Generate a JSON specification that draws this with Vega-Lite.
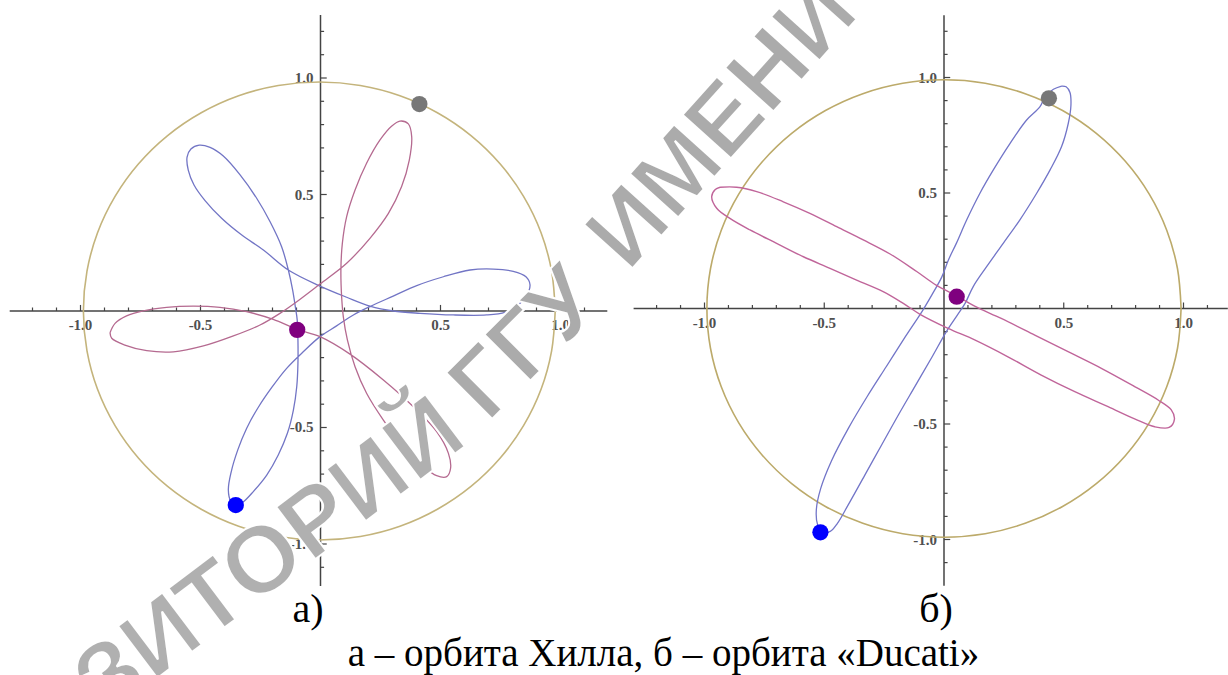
{
"$schema": "https://vega.github.io/schema/vega-lite/v6.json",
"width": 1228, "height": 675, "padding": 0, "autosize": "none", "background": "white",
"config": {"view": {"stroke": null}, "text": {"font": "Liberation Serif"}},
"datasets": {
"major": [{"v": -1, "label": "-1.0"}, {"v": -0.5, "label": "-0.5"}, {"v": 0.5, "label": "0.5"}, {"v": 1, "label": "1.0"}],
"xMinor": [{"v": -1.2}, {"v": -1.1}, {"v": -0.9}, {"v": -0.8}, {"v": -0.7}, {"v": -0.6}, {"v": -0.4}, {"v": -0.3}, {"v": -0.2}, {"v": -0.1}, {"v": 0.1}, {"v": 0.2}, {"v": 0.3}, {"v": 0.4}, {"v": 0.6}, {"v": 0.7}, {"v": 0.8}, {"v": 0.9}, {"v": 1.1}],
"yMinor": [{"v": -1.1}, {"v": -0.9}, {"v": -0.8}, {"v": -0.7}, {"v": -0.6}, {"v": -0.4}, {"v": -0.3}, {"v": -0.2}, {"v": -0.1}, {"v": 0.1}, {"v": 0.2}, {"v": 0.3}, {"v": 0.4}, {"v": 0.6}, {"v": 0.7}, {"v": 0.8}, {"v": 0.9}, {"v": 1.1}, {"v": 1.2}],
"watermark": [{"t": "РЕПОЗИТОРИЙ", "x": 0.6221, "y": -0.5652, "part": "a"}, {"t": "ГГУ", "x": 0.6971, "y": -0.4824, "part": "b"}, {"t": "ИМЕНИ Ф. СКОРИНЫ", "x": 1.2821, "y": 0.1635, "part": "c"}],
"hillCircle": [
{"i":0,"x":0.978,"y":0},{"i":1,"x":0.963,"y":0.171},{"i":2,"x":0.919,"y":0.336},{"i":3,"x":0.846,"y":0.492},{"i":4,"x":0.748,"y":0.632},{"i":5,"x":0.627,"y":0.753},{"i":6,"x":0.487,"y":0.851},{"i":7,"x":0.331,"y":0.924},{"i":8,"x":0.166,"y":0.968},{"i":9,"x":-0.005,"y":0.983},
{"i":10,"x":-0.176,"y":0.968},{"i":11,"x":-0.341,"y":0.924},{"i":12,"x":-0.497,"y":0.851},{"i":13,"x":-0.637,"y":0.753},{"i":14,"x":-0.758,"y":0.632},{"i":15,"x":-0.856,"y":0.492},{"i":16,"x":-0.929,"y":0.336},{"i":17,"x":-0.973,"y":0.171},{"i":18,"x":-0.988,"y":0},
{"i":19,"x":-0.973,"y":-0.171},{"i":20,"x":-0.929,"y":-0.336},{"i":21,"x":-0.856,"y":-0.492},{"i":22,"x":-0.758,"y":-0.632},{"i":23,"x":-0.637,"y":-0.753},{"i":24,"x":-0.497,"y":-0.851},{"i":25,"x":-0.341,"y":-0.924},{"i":26,"x":-0.176,"y":-0.968},{"i":27,"x":-0.005,"y":-0.983},
{"i":28,"x":0.166,"y":-0.968},{"i":29,"x":0.331,"y":-0.924},{"i":30,"x":0.487,"y":-0.851},{"i":31,"x":0.627,"y":-0.753},{"i":32,"x":0.748,"y":-0.632},{"i":33,"x":0.846,"y":-0.492},{"i":34,"x":0.919,"y":-0.336},{"i":35,"x":0.963,"y":-0.171},{"i":36,"x":0.978,"y":0}],
"hillBlue": [
{"i":0,"x":-0.349,"y":-0.833},{"i":1,"x":-0.324,"y":-0.821},{"i":2,"x":-0.28,"y":-0.775},{"i":3,"x":-0.224,"y":-0.704},{"i":4,"x":-0.176,"y":-0.618},{"i":5,"x":-0.138,"y":-0.525},{"i":6,"x":-0.113,"y":-0.425},{"i":7,"x":-0.099,"y":-0.325},{"i":8,"x":-0.094,"y":-0.225},{"i":9,"x":-0.094,"y":-0.124},
{"i":10,"x":-0.097,"y":-0.039},{"i":11,"x":-0.105,"y":0.019},{"i":12,"x":-0.116,"y":0.09},{"i":13,"x":-0.134,"y":0.176},{"i":14,"x":-0.162,"y":0.276},{"i":15,"x":-0.21,"y":0.383},{"i":16,"x":-0.266,"y":0.484},{"i":17,"x":-0.335,"y":0.584},{"i":18,"x":-0.405,"y":0.665},{"i":19,"x":-0.46,"y":0.702},
{"i":20,"x":-0.505,"y":0.712},{"i":21,"x":-0.54,"y":0.695},{"i":22,"x":-0.556,"y":0.66},{"i":23,"x":-0.551,"y":0.605},{"i":24,"x":-0.527,"y":0.541},{"i":25,"x":-0.481,"y":0.474},{"i":26,"x":-0.412,"y":0.398},{"i":27,"x":-0.328,"y":0.326},{"i":28,"x":-0.238,"y":0.262},{"i":29,"x":-0.134,"y":0.176},
{"i":30,"x":-0.002,"y":0.107},{"i":31,"x":0.109,"y":0.059},{"i":32,"x":0.206,"y":0.021},{"i":33,"x":0.303,"y":0.0},{"i":34,"x":0.415,"y":-0.01},{"i":35,"x":0.553,"y":-0.017},{"i":36,"x":0.692,"y":-0.017},{"i":37,"x":0.769,"y":-0.006},{"i":38,"x":0.817,"y":0.021},{"i":39,"x":0.856,"y":0.062},
{"i":40,"x":0.873,"y":0.112},{"i":41,"x":0.856,"y":0.147},{"i":42,"x":0.803,"y":0.17},{"i":43,"x":0.72,"y":0.18},{"i":44,"x":0.623,"y":0.176},{"i":45,"x":0.512,"y":0.147},{"i":46,"x":0.401,"y":0.109},{"i":47,"x":0.303,"y":0.064},{"i":48,"x":0.206,"y":0.019},{"i":49,"x":0.137,"y":-0.017},
{"i":50,"x":0.067,"y":-0.064},{"i":51,"x":-0.002,"y":-0.11},{"i":52,"x":-0.072,"y":-0.175},{"i":53,"x":-0.141,"y":-0.246},{"i":54,"x":-0.203,"y":-0.328},{"i":55,"x":-0.259,"y":-0.413},{"i":56,"x":-0.308,"y":-0.504},{"i":57,"x":-0.345,"y":-0.597},{"i":58,"x":-0.372,"y":-0.69},{"i":59,"x":-0.384,"y":-0.768},
{"i":60,"x":-0.374,"y":-0.815},{"i":61,"x":-0.349,"y":-0.833}],
"hillPink": [
{"i":0,"x":-0.877,"y":-0.093},{"i":1,"x":-0.856,"y":-0.053},{"i":2,"x":-0.808,"y":-0.021},{"i":3,"x":-0.738,"y":0.001},{"i":4,"x":-0.641,"y":0.016},{"i":5,"x":-0.53,"y":0.021},{"i":6,"x":-0.419,"y":0.016},{"i":7,"x":-0.308,"y":-0.003},{"i":8,"x":-0.197,"y":-0.036},{"i":9,"x":-0.097,"y":-0.079},
{"i":10,"x":-0.002,"y":-0.11},{"i":11,"x":0.123,"y":-0.185},{"i":12,"x":0.262,"y":-0.296},{"i":13,"x":0.387,"y":-0.411},{"i":14,"x":0.484,"y":-0.518},{"i":15,"x":0.533,"y":-0.611},{"i":16,"x":0.542,"y":-0.675},{"i":17,"x":0.526,"y":-0.711},{"i":18,"x":0.484,"y":-0.707},{"i":19,"x":0.422,"y":-0.661},
{"i":20,"x":0.345,"y":-0.582},{"i":21,"x":0.262,"y":-0.468},{"i":22,"x":0.192,"y":-0.353},{"i":23,"x":0.144,"y":-0.239},{"i":24,"x":0.112,"y":-0.124},{"i":25,"x":0.095,"y":-0.024},{"i":26,"x":0.088,"y":0.062},{"i":27,"x":0.085,"y":0.176},{"i":28,"x":0.091,"y":0.29},{"i":29,"x":0.109,"y":0.405},
{"i":30,"x":0.144,"y":0.519},{"i":31,"x":0.192,"y":0.634},{"i":32,"x":0.248,"y":0.734},{"i":33,"x":0.297,"y":0.794},{"i":34,"x":0.331,"y":0.815},{"i":35,"x":0.366,"y":0.803},{"i":36,"x":0.38,"y":0.748},{"i":37,"x":0.37,"y":0.648},{"i":38,"x":0.338,"y":0.534},{"i":39,"x":0.283,"y":0.419},
{"i":40,"x":0.206,"y":0.312},{"i":41,"x":0.109,"y":0.205},{"i":42,"x":-0.002,"y":0.116},{"i":43,"x":-0.099,"y":0.04},{"i":44,"x":-0.169,"y":-0.01},{"i":45,"x":-0.252,"y":-0.06},{"i":46,"x":-0.363,"y":-0.107},{"i":47,"x":-0.488,"y":-0.15},{"i":48,"x":-0.613,"y":-0.175},{"i":49,"x":-0.724,"y":-0.17},
{"i":50,"x":-0.815,"y":-0.146},{"i":51,"x":-0.87,"y":-0.117},{"i":52,"x":-0.877,"y":-0.093}],
"hillBodies": [{"body":"outer","x":0.412,"y":0.888},{"body":"center","x":-0.097,"y":-0.081},{"body":"third","x":-0.353,"y":-0.833}],
"ducatiCircle": [
{"i":0,"x":0.99,"y":0},{"i":1,"x":0.975,"y":0.172},{"i":2,"x":0.93,"y":0.339},{"i":3,"x":0.857,"y":0.495},{"i":4,"x":0.758,"y":0.636},{"i":5,"x":0.636,"y":0.758},{"i":6,"x":0.495,"y":0.857},{"i":7,"x":0.339,"y":0.93},{"i":8,"x":0.172,"y":0.975},{"i":9,"x":0,"y":0.99},
{"i":10,"x":-0.172,"y":0.975},{"i":11,"x":-0.339,"y":0.93},{"i":12,"x":-0.495,"y":0.857},{"i":13,"x":-0.636,"y":0.758},{"i":14,"x":-0.758,"y":0.636},{"i":15,"x":-0.857,"y":0.495},{"i":16,"x":-0.93,"y":0.339},{"i":17,"x":-0.975,"y":0.172},{"i":18,"x":-0.99,"y":0},
{"i":19,"x":-0.975,"y":-0.172},{"i":20,"x":-0.93,"y":-0.339},{"i":21,"x":-0.857,"y":-0.495},{"i":22,"x":-0.758,"y":-0.636},{"i":23,"x":-0.636,"y":-0.758},{"i":24,"x":-0.495,"y":-0.857},{"i":25,"x":-0.339,"y":-0.93},{"i":26,"x":-0.172,"y":-0.975},{"i":27,"x":0,"y":-0.99},
{"i":28,"x":0.172,"y":-0.975},{"i":29,"x":0.339,"y":-0.93},{"i":30,"x":0.495,"y":-0.857},{"i":31,"x":0.636,"y":-0.758},{"i":32,"x":0.758,"y":-0.636},{"i":33,"x":0.857,"y":-0.495},{"i":34,"x":0.93,"y":-0.339},{"i":35,"x":0.975,"y":-0.172},{"i":36,"x":0.99,"y":0}],
"ducatiBlue": [
{"i":0,"x":0.491,"y":0.963},{"i":1,"x":0.457,"y":0.949},{"i":2,"x":0.422,"y":0.917},{"i":3,"x":0.401,"y":0.874},{"i":4,"x":0.345,"y":0.816},{"i":5,"x":0.276,"y":0.715},{"i":6,"x":0.206,"y":0.6},{"i":7,"x":0.15,"y":0.499},{"i":8,"x":0.095,"y":0.384},{"i":9,"x":0.052,"y":0.283},
{"i":10,"x":0.018,"y":0.209},{"i":11,"x":-0.009,"y":0.137},{"i":12,"x":-0.05,"y":0.06},{"i":13,"x":-0.09,"y":-0.01},{"i":14,"x":-0.16,"y":-0.12},{"i":15,"x":-0.24,"y":-0.25},{"i":16,"x":-0.32,"y":-0.38},{"i":17,"x":-0.4,"y":-0.52},{"i":18,"x":-0.47,"y":-0.66},{"i":19,"x":-0.515,"y":-0.78},
{"i":20,"x":-0.533,"y":-0.87},{"i":21,"x":-0.528,"y":-0.935},{"i":22,"x":-0.505,"y":-0.968},{"i":23,"x":-0.475,"y":-0.965},{"i":24,"x":-0.445,"y":-0.93},{"i":25,"x":-0.4,"y":-0.85},{"i":26,"x":-0.33,"y":-0.72},{"i":27,"x":-0.26,"y":-0.59},{"i":28,"x":-0.19,"y":-0.46},{"i":29,"x":-0.12,"y":-0.335},
{"i":30,"x":-0.05,"y":-0.21},{"i":31,"x":0.01,"y":-0.1},{"i":32,"x":0.055,"y":-0.03},{"i":33,"x":0.088,"y":0.022},{"i":34,"x":0.122,"y":0.095},{"i":35,"x":0.178,"y":0.181},{"i":36,"x":0.248,"y":0.283},{"i":37,"x":0.317,"y":0.384},{"i":38,"x":0.387,"y":0.499},{"i":39,"x":0.443,"y":0.6},
{"i":40,"x":0.491,"y":0.701},{"i":41,"x":0.519,"y":0.802},{"i":42,"x":0.53,"y":0.88},{"i":43,"x":0.526,"y":0.935},{"i":44,"x":0.51,"y":0.96},{"i":45,"x":0.491,"y":0.963}],
"ducatiPink": [
{"i":0,"x":-0.935,"y":0.525},{"i":1,"x":-0.866,"y":0.525},{"i":2,"x":-0.782,"y":0.506},{"i":3,"x":-0.671,"y":0.462},{"i":4,"x":-0.56,"y":0.412},{"i":5,"x":-0.448,"y":0.354},{"i":6,"x":-0.337,"y":0.297},{"i":7,"x":-0.225,"y":0.236},{"i":8,"x":-0.114,"y":0.16},{"i":9,"x":-0.031,"y":0.1},
{"i":10,"x":0.053,"y":0.055},{"i":11,"x":0.128,"y":0.01},{"i":12,"x":0.239,"y":-0.043},{"i":13,"x":0.379,"y":-0.115},{"i":14,"x":0.518,"y":-0.187},{"i":15,"x":0.657,"y":-0.259},{"i":16,"x":0.796,"y":-0.338},{"i":17,"x":0.894,"y":-0.396},{"i":18,"x":0.949,"y":-0.439},{"i":19,"x":0.962,"y":-0.48},
{"i":20,"x":0.94,"y":-0.515},{"i":21,"x":0.88,"y":-0.512},{"i":22,"x":0.796,"y":-0.478},{"i":23,"x":0.685,"y":-0.425},{"i":24,"x":0.546,"y":-0.36},{"i":25,"x":0.406,"y":-0.288},{"i":26,"x":0.267,"y":-0.209},{"i":27,"x":0.128,"y":-0.136},{"i":28,"x":0.017,"y":-0.086},{"i":29,"x":-0.1,"y":-0.025},
{"i":30,"x":-0.17,"y":0.022},{"i":31,"x":-0.254,"y":0.073},{"i":32,"x":-0.365,"y":0.123},{"i":33,"x":-0.476,"y":0.174},{"i":34,"x":-0.587,"y":0.224},{"i":35,"x":-0.699,"y":0.282},{"i":36,"x":-0.81,"y":0.34},{"i":37,"x":-0.894,"y":0.39},{"i":38,"x":-0.949,"y":0.434},{"i":39,"x":-0.97,"y":0.484},
{"i":40,"x":-0.955,"y":0.515},{"i":41,"x":-0.935,"y":0.525}],
"ducatiBodies": [{"body":"outer","x":0.438,"y":0.91},{"body":"center","x":0.053,"y":0.051},{"body":"third","x":-0.516,"y":-0.969}]
},
"layer": [
{"layer": [
 {"data": {"values": [{}]}, "mark": {"type": "rule", "stroke": "#444444", "strokeWidth": 1.5},
  "encoding": {"x": {"datum": -1.295, "type": "quantitative", "scale": {"domain": [-1.335417, 3.78125], "nice": false, "zero": false}, "axis": null}, "x2": {"datum": 1.195},
   "y": {"datum": 0, "type": "quantitative", "scale": {"domain": [-1.562232, 1.334764], "nice": false, "zero": false}, "axis": null}}},
 {"data": {"values": [{}]}, "mark": {"type": "rule", "stroke": "#444444", "strokeWidth": 1.5},
  "encoding": {"x": {"datum": 0, "type": "quantitative", "scale": {"domain": [-1.335417, 3.78125], "nice": false, "zero": false}, "axis": null},
   "y": {"datum": -1.18, "type": "quantitative", "scale": {"domain": [-1.562232, 1.334764], "nice": false, "zero": false}, "axis": null}, "y2": {"datum": 1.27}}},
 {"data": {"name": "xMinor"}, "mark": {"type": "rule", "stroke": "#444444", "strokeWidth": 1.2},
  "encoding": {"x": {"field": "v", "type": "quantitative", "scale": {"domain": [-1.335417, 3.78125], "nice": false, "zero": false}, "axis": null},
   "y": {"datum": 0, "type": "quantitative", "scale": {"domain": [-1.562232, 1.334764], "nice": false, "zero": false}, "axis": null}, "y2": {"datum": 0.015}}},
 {"data": {"name": "major"}, "mark": {"type": "rule", "stroke": "#444444", "strokeWidth": 1.2},
  "encoding": {"x": {"field": "v", "type": "quantitative", "scale": {"domain": [-1.335417, 3.78125], "nice": false, "zero": false}, "axis": null},
   "y": {"datum": 0, "type": "quantitative", "scale": {"domain": [-1.562232, 1.334764], "nice": false, "zero": false}, "axis": null}, "y2": {"datum": 0.026}}},
 {"data": {"name": "yMinor"}, "mark": {"type": "rule", "stroke": "#444444", "strokeWidth": 1.2},
  "encoding": {"y": {"field": "v", "type": "quantitative", "scale": {"domain": [-1.562232, 1.334764], "nice": false, "zero": false}, "axis": null},
   "x": {"datum": 0, "type": "quantitative", "scale": {"domain": [-1.335417, 3.78125], "nice": false, "zero": false}, "axis": null}, "x2": {"datum": 0.015}}},
 {"data": {"name": "major"}, "mark": {"type": "rule", "stroke": "#444444", "strokeWidth": 1.2},
  "encoding": {"y": {"field": "v", "type": "quantitative", "scale": {"domain": [-1.562232, 1.334764], "nice": false, "zero": false}, "axis": null},
   "x": {"datum": 0, "type": "quantitative", "scale": {"domain": [-1.335417, 3.78125], "nice": false, "zero": false}, "axis": null}, "x2": {"datum": 0.026}}},
 {"data": {"name": "major"}, "mark": {"type": "text", "fontSize": 15, "fontWeight": "bold", "color": "#505050", "baseline": "middle", "align": "center", "dy": 14},
  "encoding": {"x": {"field": "v", "type": "quantitative", "scale": {"domain": [-1.335417, 3.78125], "nice": false, "zero": false}, "axis": null},
   "y": {"datum": 0, "type": "quantitative", "scale": {"domain": [-1.562232, 1.334764], "nice": false, "zero": false}, "axis": null}, "text": {"field": "label"}}},
 {"data": {"name": "major"}, "mark": {"type": "text", "fontSize": 15, "fontWeight": "bold", "color": "#505050", "baseline": "middle", "align": "right", "dx": -7},
  "encoding": {"y": {"field": "v", "type": "quantitative", "scale": {"domain": [-1.562232, 1.334764], "nice": false, "zero": false}, "axis": null},
   "x": {"datum": 0, "type": "quantitative", "scale": {"domain": [-1.335417, 3.78125], "nice": false, "zero": false}, "axis": null}, "text": {"field": "label"}}},
 {"data": {"name": "hillCircle"}, "mark": {"type": "line", "stroke": "#c4b47c", "strokeWidth": 1.6, "interpolate": "catmull-rom"},
  "encoding": {"x": {"field": "x", "type": "quantitative", "scale": {"domain": [-1.335417, 3.78125], "nice": false, "zero": false}, "axis": null},
   "y": {"field": "y", "type": "quantitative", "scale": {"domain": [-1.562232, 1.334764], "nice": false, "zero": false}, "axis": null}, "order": {"field": "i", "type": "quantitative"}}},
 {"data": {"name": "hillBlue"}, "mark": {"type": "line", "stroke": "#7275c5", "strokeWidth": 1.3, "interpolate": "catmull-rom"},
  "encoding": {"x": {"field": "x", "type": "quantitative", "scale": {"domain": [-1.335417, 3.78125], "nice": false, "zero": false}, "axis": null},
   "y": {"field": "y", "type": "quantitative", "scale": {"domain": [-1.562232, 1.334764], "nice": false, "zero": false}, "axis": null}, "order": {"field": "i", "type": "quantitative"}}},
 {"data": {"name": "hillPink"}, "mark": {"type": "line", "stroke": "#b56a90", "strokeWidth": 1.3, "interpolate": "catmull-rom"},
  "encoding": {"x": {"field": "x", "type": "quantitative", "scale": {"domain": [-1.335417, 3.78125], "nice": false, "zero": false}, "axis": null},
   "y": {"field": "y", "type": "quantitative", "scale": {"domain": [-1.562232, 1.334764], "nice": false, "zero": false}, "axis": null}, "order": {"field": "i", "type": "quantitative"}}},
 {"data": {"name": "hillBodies"}, "mark": {"type": "point", "filled": true, "opacity": 1, "size": 265},
  "encoding": {"x": {"field": "x", "type": "quantitative", "scale": {"domain": [-1.335417, 3.78125], "nice": false, "zero": false}, "axis": null},
   "y": {"field": "y", "type": "quantitative", "scale": {"domain": [-1.562232, 1.334764], "nice": false, "zero": false}, "axis": null},
   "color": {"field": "body", "type": "nominal", "scale": {"domain": ["outer", "center", "third"], "range": ["#777777", "#7f007f", "#0000ff"]}, "legend": null}}},
 {"data": {"values": [{"t": "а)"}]}, "mark": {"type": "text", "fontSize": 40, "color": "#000000", "baseline": "alphabetic", "align": "center"},
  "encoding": {"x": {"datum": -0.052, "type": "quantitative", "scale": {"domain": [-1.335417, 3.78125], "nice": false, "zero": false}, "axis": null},
   "y": {"datum": -1.3348, "type": "quantitative", "scale": {"domain": [-1.562232, 1.334764], "nice": false, "zero": false}, "axis": null}, "text": {"field": "t"}}},
 {"data": {"values": [{"t": "а – орбита Хилла, б – орбита «Ducati»"}]}, "mark": {"type": "text", "fontSize": 39, "color": "#000000", "baseline": "alphabetic", "align": "center"},
  "encoding": {"x": {"datum": 1.429, "type": "quantitative", "scale": {"domain": [-1.335417, 3.78125], "nice": false, "zero": false}, "axis": null},
   "y": {"datum": -1.5236, "type": "quantitative", "scale": {"domain": [-1.562232, 1.334764], "nice": false, "zero": false}, "axis": null}, "text": {"field": "t"}}}
]},
{"layer": [
 {"data": {"values": [{}]}, "mark": {"type": "rule", "stroke": "#444444", "strokeWidth": 1.5},
  "encoding": {"x": {"datum": -1.296, "type": "quantitative", "scale": {"domain": [-3.941545, 1.185804], "nice": false, "zero": false}, "axis": null}, "x2": {"datum": 1.185},
   "y": {"datum": 0, "type": "quantitative", "scale": {"domain": [-1.58658, 1.335498], "nice": false, "zero": false}, "axis": null}}},
 {"data": {"values": [{}]}, "mark": {"type": "rule", "stroke": "#444444", "strokeWidth": 1.5},
  "encoding": {"x": {"datum": 0, "type": "quantitative", "scale": {"domain": [-3.941545, 1.185804], "nice": false, "zero": false}, "axis": null},
   "y": {"datum": -1.2, "type": "quantitative", "scale": {"domain": [-1.58658, 1.335498], "nice": false, "zero": false}, "axis": null}, "y2": {"datum": 1.27}}},
 {"data": {"name": "xMinor"}, "mark": {"type": "rule", "stroke": "#444444", "strokeWidth": 1.2},
  "encoding": {"x": {"field": "v", "type": "quantitative", "scale": {"domain": [-3.941545, 1.185804], "nice": false, "zero": false}, "axis": null},
   "y": {"datum": 0, "type": "quantitative", "scale": {"domain": [-1.58658, 1.335498], "nice": false, "zero": false}, "axis": null}, "y2": {"datum": 0.015}}},
 {"data": {"name": "major"}, "mark": {"type": "rule", "stroke": "#444444", "strokeWidth": 1.2},
  "encoding": {"x": {"field": "v", "type": "quantitative", "scale": {"domain": [-3.941545, 1.185804], "nice": false, "zero": false}, "axis": null},
   "y": {"datum": 0, "type": "quantitative", "scale": {"domain": [-1.58658, 1.335498], "nice": false, "zero": false}, "axis": null}, "y2": {"datum": 0.026}}},
 {"data": {"name": "yMinor"}, "mark": {"type": "rule", "stroke": "#444444", "strokeWidth": 1.2},
  "encoding": {"y": {"field": "v", "type": "quantitative", "scale": {"domain": [-1.58658, 1.335498], "nice": false, "zero": false}, "axis": null},
   "x": {"datum": 0, "type": "quantitative", "scale": {"domain": [-3.941545, 1.185804], "nice": false, "zero": false}, "axis": null}, "x2": {"datum": 0.015}}},
 {"data": {"name": "major"}, "mark": {"type": "rule", "stroke": "#444444", "strokeWidth": 1.2},
  "encoding": {"y": {"field": "v", "type": "quantitative", "scale": {"domain": [-1.58658, 1.335498], "nice": false, "zero": false}, "axis": null},
   "x": {"datum": 0, "type": "quantitative", "scale": {"domain": [-3.941545, 1.185804], "nice": false, "zero": false}, "axis": null}, "x2": {"datum": 0.026}}},
 {"data": {"name": "major"}, "mark": {"type": "text", "fontSize": 15, "fontWeight": "bold", "color": "#505050", "baseline": "middle", "align": "center", "dy": 14},
  "encoding": {"x": {"field": "v", "type": "quantitative", "scale": {"domain": [-3.941545, 1.185804], "nice": false, "zero": false}, "axis": null},
   "y": {"datum": 0, "type": "quantitative", "scale": {"domain": [-1.58658, 1.335498], "nice": false, "zero": false}, "axis": null}, "text": {"field": "label"}}},
 {"data": {"name": "major"}, "mark": {"type": "text", "fontSize": 15, "fontWeight": "bold", "color": "#505050", "baseline": "middle", "align": "right", "dx": -7},
  "encoding": {"y": {"field": "v", "type": "quantitative", "scale": {"domain": [-1.58658, 1.335498], "nice": false, "zero": false}, "axis": null},
   "x": {"datum": 0, "type": "quantitative", "scale": {"domain": [-3.941545, 1.185804], "nice": false, "zero": false}, "axis": null}, "text": {"field": "label"}}},
 {"data": {"name": "ducatiCircle"}, "mark": {"type": "line", "stroke": "#bcaa6a", "strokeWidth": 1.6, "interpolate": "catmull-rom"},
  "encoding": {"x": {"field": "x", "type": "quantitative", "scale": {"domain": [-3.941545, 1.185804], "nice": false, "zero": false}, "axis": null},
   "y": {"field": "y", "type": "quantitative", "scale": {"domain": [-1.58658, 1.335498], "nice": false, "zero": false}, "axis": null}, "order": {"field": "i", "type": "quantitative"}}},
 {"data": {"name": "ducatiBlue"}, "mark": {"type": "line", "stroke": "#7275c8", "strokeWidth": 1.3, "interpolate": "catmull-rom"},
  "encoding": {"x": {"field": "x", "type": "quantitative", "scale": {"domain": [-3.941545, 1.185804], "nice": false, "zero": false}, "axis": null},
   "y": {"field": "y", "type": "quantitative", "scale": {"domain": [-1.58658, 1.335498], "nice": false, "zero": false}, "axis": null}, "order": {"field": "i", "type": "quantitative"}}},
 {"data": {"name": "ducatiPink"}, "mark": {"type": "line", "stroke": "#c0659a", "strokeWidth": 1.4, "interpolate": "catmull-rom"},
  "encoding": {"x": {"field": "x", "type": "quantitative", "scale": {"domain": [-3.941545, 1.185804], "nice": false, "zero": false}, "axis": null},
   "y": {"field": "y", "type": "quantitative", "scale": {"domain": [-1.58658, 1.335498], "nice": false, "zero": false}, "axis": null}, "order": {"field": "i", "type": "quantitative"}}},
 {"data": {"name": "ducatiBodies"}, "mark": {"type": "point", "filled": true, "opacity": 1, "size": 265},
  "encoding": {"x": {"field": "x", "type": "quantitative", "scale": {"domain": [-3.941545, 1.185804], "nice": false, "zero": false}, "axis": null},
   "y": {"field": "y", "type": "quantitative", "scale": {"domain": [-1.58658, 1.335498], "nice": false, "zero": false}, "axis": null},
   "color": {"field": "body", "type": "nominal", "scale": {"domain": ["outer", "center", "third"], "range": ["#777777", "#7f007f", "#0000ff"]}, "legend": null}}},
 {"data": {"values": [{"t": "б)"}]}, "mark": {"type": "text", "fontSize": 40, "color": "#000000", "baseline": "alphabetic", "align": "center"},
  "encoding": {"x": {"datum": -0.0334, "type": "quantitative", "scale": {"domain": [-3.941545, 1.185804], "nice": false, "zero": false}, "axis": null},
   "y": {"datum": -1.3571, "type": "quantitative", "scale": {"domain": [-1.58658, 1.335498], "nice": false, "zero": false}, "axis": null}, "text": {"field": "t"}}}
]},
{"layer": [
 {"data": {"name": "watermark"}, "transform": [{"filter": "datum.part === 'a'"}],
  "mark": {"type": "text", "font": "Liberation Sans", "fontWeight": "bold", "fontSize": 95, "fill": "#b0b0b0", "stroke": "#ffffff", "strokeWidth": 2, "angle": -37, "align": "right", "baseline": "alphabetic"},
  "encoding": {"x": {"field": "x", "type": "quantitative", "scale": {"domain": [-1.335417, 3.78125], "nice": false, "zero": false}, "axis": null},
   "y": {"field": "y", "type": "quantitative", "scale": {"domain": [-1.562232, 1.334764], "nice": false, "zero": false}, "axis": null}, "text": {"field": "t"}}},
 {"data": {"name": "watermark"}, "transform": [{"filter": "datum.part === 'b'"}],
  "mark": {"type": "text", "font": "Liberation Sans", "fontWeight": "bold", "fontSize": 95, "fill": "#ababab", "stroke": "#ffffff", "strokeWidth": 2, "angle": -45, "align": "left", "baseline": "alphabetic"},
  "encoding": {"x": {"field": "x", "type": "quantitative", "scale": {"domain": [-1.335417, 3.78125], "nice": false, "zero": false}, "axis": null},
   "y": {"field": "y", "type": "quantitative", "scale": {"domain": [-1.562232, 1.334764], "nice": false, "zero": false}, "axis": null}, "text": {"field": "t"}}},
 {"data": {"name": "watermark"}, "transform": [{"filter": "datum.part === 'c'"}],
  "mark": {"type": "text", "font": "Liberation Sans", "fontWeight": "bold", "fontSize": 95, "fill": "#ababab", "stroke": "#ffffff", "strokeWidth": 2, "angle": -48, "align": "left", "baseline": "alphabetic"},
  "encoding": {"x": {"field": "x", "type": "quantitative", "scale": {"domain": [-1.335417, 3.78125], "nice": false, "zero": false}, "axis": null},
   "y": {"field": "y", "type": "quantitative", "scale": {"domain": [-1.562232, 1.334764], "nice": false, "zero": false}, "axis": null}, "text": {"field": "t"}}}
]}
],
"resolve": {"scale": {"x": "independent", "y": "independent"}}
}
